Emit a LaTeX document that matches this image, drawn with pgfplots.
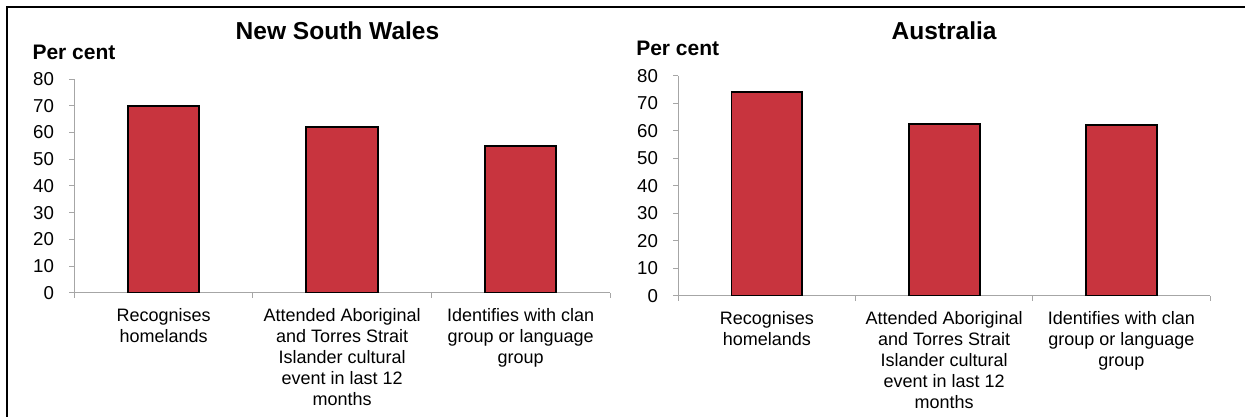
\documentclass[border=0pt]{standalone}
\usepackage{fontspec}
\setmainfont{Liberation Sans}
\usepackage{pgfplots}
\pgfplotsset{compat=1.18}
\definecolor{barred}{RGB}{200,52,62}
\definecolor{axgrey}{RGB}{166,166,166}
\pgfplotsset{
  mybars/.style={
    scale only axis,
    anchor=south west,
    xmin=-0.5, xmax=2.5, ymin=0, ymax=80,
    axis x line*=bottom, axis y line*=left,
    axis line style={draw=axgrey, line width=0.75pt, -},
    every outer x axis line/.append style={-},
    every outer y axis line/.append style={-},
    ytick={0,10,...,80},
    xtick={-0.5,0.5,1.5,2.5},
    x tick label as interval,
    xticklabels={{Recognises\\homelands},{Attended Aboriginal\\and Torres Strait\\Islander cultural\\event in last 12\\months},{Identifies with clan\\group or language\\group}},
    tick align=outside,
    major tick length=3.75pt,
    tick style={draw=axgrey, line width=0.75pt},
    xticklabel style={font=\fontsize{13.5}{15.75}\selectfont, align=center, text=black, yshift=-4.5pt},
    yticklabel style={font=\fontsize{14}{16}\selectfont, xshift=-8pt, text=black},
    /pgf/number format/assume math mode=true,
    ybar, bar width=0.4,
  }
}
\begin{document}
\begin{tikzpicture}
\useasboundingbox (0,0) rectangle (933.75pt,312.75pt);
\fill[white] (0,0) rectangle (933.75pt,312.75pt);
\draw[black, line width=1.5pt] (5pt,0pt) -- (5pt,307.7pt) -- (933.75pt,307.7pt);

\begin{axis}[mybars, at={(55.7pt,93.2pt)}, width=401.8pt, height=160.3pt]
\addplot[fill=barred, draw=black, line width=1.4pt] coordinates {(0,70) (1,62) (2,55)};
\end{axis}
\node[font=\bfseries\fontsize{18.4}{22}\selectfont, anchor=base] at (253.1pt,283.3pt) {New South Wales};
\node[font=\bfseries\fontsize{15.75}{19}\selectfont, anchor=base west, inner sep=0pt] at (24.2pt,267.75pt) {Per cent};

\begin{axis}[mybars, at={(508.7pt,91.0pt)}, width=398.8pt, height=165pt]
\addplot[fill=barred, draw=black, line width=1.4pt] coordinates {(0,74.1) (1,62.5) (2,62.2)};
\end{axis}
\node[font=\bfseries\fontsize{18.4}{22}\selectfont, anchor=base] at (708.1pt,282.75pt) {Australia};
\node[font=\bfseries\fontsize{15.75}{19}\selectfont, anchor=base west, inner sep=0pt] at (477pt,270.75pt) {Per cent};
\end{tikzpicture}
\end{document}
